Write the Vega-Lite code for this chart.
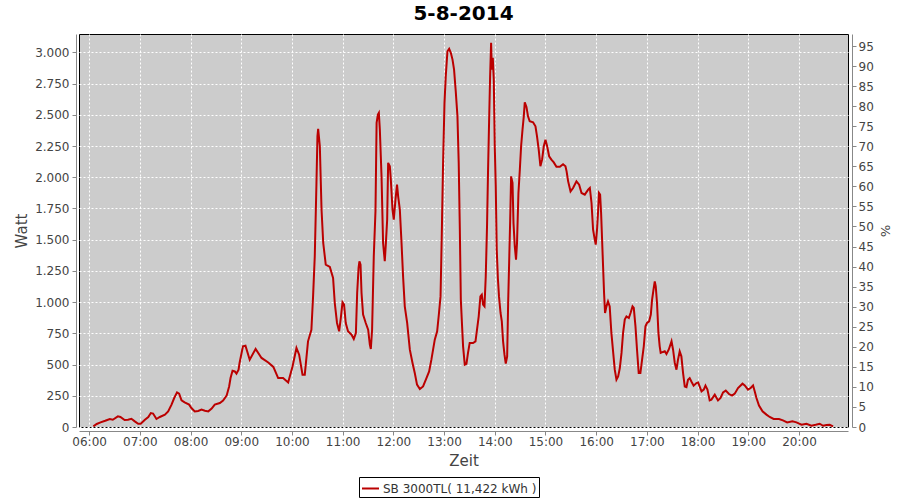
{
"$schema": "https://vega.github.io/schema/vega-lite/v6.json",
"width": 769, "height": 393,
"autosize": "none",
"padding": {"left": 79, "top": 34, "right": 52, "bottom": 73},
"background": "white",
"title": {"text": "5-8-2014", "font": "DejaVu Sans", "fontSize": 20, "fontWeight": "bold", "color": "#000000", "anchor": "middle", "offset": 10},
"config": {
  "view": {"fill": "#cccccc", "stroke": "#000000", "strokeWidth": 1},
  "axis": {"labelFont": "DejaVu Sans", "labelFontSize": 12, "labelColor": "#444444", "titleFont": "DejaVu Sans", "titleFontWeight": "normal", "titleColor": "#444444", "titleFontSize": 15, "domainColor": "#888888", "tickColor": "#888888", "gridColor": "#ffffff", "gridDash": [2, 2], "gridOpacity": 1, "gridWidth": 1}
},
"data": {"values": [
{"t":"2014-08-05T06:05:00","W":5},{"t":"2014-08-05T06:09:00","W":24},{"t":"2014-08-05T06:13:30","W":37},{"t":"2014-08-05T06:19:00","W":50},{"t":"2014-08-05T06:24:30","W":64},{"t":"2014-08-05T06:28:00","W":58},{"t":"2014-08-05T06:34:00","W":85},{"t":"2014-08-05T06:37:00","W":80},{"t":"2014-08-05T06:42:00","W":56},{"t":"2014-08-05T06:46:00","W":58},{"t":"2014-08-05T06:50:00","W":66},{"t":"2014-08-05T06:54:00","W":45},{"t":"2014-08-05T06:58:00","W":26},{"t":"2014-08-05T07:01:00","W":26},{"t":"2014-08-05T07:06:00","W":58},{"t":"2014-08-05T07:10:00","W":80},{"t":"2014-08-05T07:13:00","W":112},{"t":"2014-08-05T07:15:40","W":108},{"t":"2014-08-05T07:19:40","W":64},{"t":"2014-08-05T07:23:40","W":80},{"t":"2014-08-05T07:29:40","W":99},{"t":"2014-08-05T07:33:30","W":125},{"t":"2014-08-05T07:37:30","W":179},{"t":"2014-08-05T07:40:40","W":232},{"t":"2014-08-05T07:44:00","W":277},{"t":"2014-08-05T07:46:30","W":267},{"t":"2014-08-05T07:49:20","W":213},{"t":"2014-08-05T07:53:00","W":197},{"t":"2014-08-05T07:58:20","W":179},{"t":"2014-08-05T08:01:00","W":152},{"t":"2014-08-05T08:05:00","W":125},{"t":"2014-08-05T08:09:00","W":128},{"t":"2014-08-05T08:13:00","W":139},{"t":"2014-08-05T08:17:00","W":130},{"t":"2014-08-05T08:21:00","W":125},{"t":"2014-08-05T08:25:00","W":147},{"t":"2014-08-05T08:28:40","W":179},{"t":"2014-08-05T08:34:40","W":192},{"t":"2014-08-05T08:38:30","W":211},{"t":"2014-08-05T08:42:40","W":251},{"t":"2014-08-05T08:45:40","W":325},{"t":"2014-08-05T08:47:20","W":392},{"t":"2014-08-05T08:49:40","W":451},{"t":"2014-08-05T08:52:20","W":445},{"t":"2014-08-05T08:54:20","W":427},{"t":"2014-08-05T08:56:50","W":459},{"t":"2014-08-05T08:58:00","W":513},
{"t":"2014-08-05T09:02:00","W":646},{"t":"2014-08-05T09:05:00","W":651},{"t":"2014-08-05T09:10:00","W":539},{"t":"2014-08-05T09:17:00","W":625},{"t":"2014-08-05T09:24:00","W":553},{"t":"2014-08-05T09:32:00","W":517},{"t":"2014-08-05T09:38:00","W":481},{"t":"2014-08-05T09:43:40","W":392},{"t":"2014-08-05T09:49:30","W":392},{"t":"2014-08-05T09:55:30","W":357},{"t":"2014-08-05T10:00:40","W":485},{"t":"2014-08-05T10:05:20","W":633},{"t":"2014-08-05T10:08:30","W":579},{"t":"2014-08-05T10:12:30","W":419},{"t":"2014-08-05T10:15:10","W":419},{"t":"2014-08-05T10:19:00","W":686},{"t":"2014-08-05T10:23:00","W":779},{"t":"2014-08-05T10:25:00","W":1046},{"t":"2014-08-05T10:27:00","W":1367},{"t":"2014-08-05T10:29:00","W":1954},{"t":"2014-08-05T10:30:10","W":2328},{"t":"2014-08-05T10:31:00","W":2387},{"t":"2014-08-05T10:33:00","W":2248},{"t":"2014-08-05T10:35:00","W":1741},{"t":"2014-08-05T10:37:00","W":1474},{"t":"2014-08-05T10:40:00","W":1300},{"t":"2014-08-05T10:44:50","W":1282},{"t":"2014-08-05T10:48:40","W":1193},{"t":"2014-08-05T10:50:40","W":993},{"t":"2014-08-05T10:53:20","W":833},{"t":"2014-08-05T10:55:50","W":766},{"t":"2014-08-05T10:57:50","W":873},{"t":"2014-08-05T10:59:50","W":998},{"t":"2014-08-05T11:01:40","W":980},{"t":"2014-08-05T11:03:40","W":833},{"t":"2014-08-05T11:06:20","W":766},{"t":"2014-08-05T11:10:30","W":739},{"t":"2014-08-05T11:13:10","W":705},{"t":"2014-08-05T11:15:40","W":753},{"t":"2014-08-05T11:17:10","W":1073},{"t":"2014-08-05T11:18:50","W":1274},{"t":"2014-08-05T11:19:50","W":1327},{"t":"2014-08-05T11:21:10","W":1300},{"t":"2014-08-05T11:22:20","W":1073},{"t":"2014-08-05T11:24:10","W":900},{"t":"2014-08-05T11:27:20","W":833},{"t":"2014-08-05T11:30:10","W":779},{"t":"2014-08-05T11:32:10","W":659},{"t":"2014-08-05T11:33:20","W":625},{"t":"2014-08-05T11:34:50","W":779},{"t":"2014-08-05T11:36:50","W":1367},{"t":"2014-08-05T11:38:50","W":1727},{"t":"2014-08-05T11:40:10","W":2435},{"t":"2014-08-05T11:41:40","W":2501},{"t":"2014-08-05T11:42:50","W":2515},{"t":"2014-08-05T11:44:00","W":2381},{"t":"2014-08-05T11:46:00","W":2007},{"t":"2014-08-05T11:47:50","W":1474},{"t":"2014-08-05T11:49:50","W":1327},{"t":"2014-08-05T11:51:10","W":1474},{"t":"2014-08-05T11:52:40","W":1660},{"t":"2014-08-05T11:53:50","W":2115},{"t":"2014-08-05T11:55:50","W":2088},{"t":"2014-08-05T11:57:00","W":1981},{"t":"2014-08-05T11:59:00","W":1741},{"t":"2014-08-05T12:00:30","W":1660},{"t":"2014-08-05T12:02:30","W":1821},{"t":"2014-08-05T12:04:20","W":1941},{"t":"2014-08-05T12:05:40","W":1847},{"t":"2014-08-05T12:07:40","W":1741},{"t":"2014-08-05T12:09:40","W":1474},{"t":"2014-08-05T12:11:30","W":1206},{"t":"2014-08-05T12:13:30","W":966},{"t":"2014-08-05T12:16:20","W":833},{"t":"2014-08-05T12:19:30","W":619},{"t":"2014-08-05T12:22:40","W":513},{"t":"2014-08-05T12:25:20","W":432},{"t":"2014-08-05T12:28:00","W":339},{"t":"2014-08-05T12:31:20","W":304},{"t":"2014-08-05T12:35:10","W":325},{"t":"2014-08-05T12:39:10","W":392},{"t":"2014-08-05T12:42:20","W":445},{"t":"2014-08-05T12:45:00","W":539},{"t":"2014-08-05T12:49:00","W":699},{"t":"2014-08-05T12:51:50","W":766},{"t":"2014-08-05T12:54:00","W":913},{"t":"2014-08-05T12:55:50","W":1046},{"t":"2014-08-05T12:57:20","W":1554},{"t":"2014-08-05T12:58:50","W":2115},
{"t":"2014-08-05T13:00:30","W":2595},{"t":"2014-08-05T13:02:00","W":2808},{"t":"2014-08-05T13:04:00","W":3009},{"t":"2014-08-05T13:06:00","W":3028},{"t":"2014-08-05T13:08:00","W":2996},{"t":"2014-08-05T13:10:00","W":2942},{"t":"2014-08-05T13:11:50","W":2862},{"t":"2014-08-05T13:13:50","W":2688},{"t":"2014-08-05T13:15:50","W":2488},{"t":"2014-08-05T13:17:20","W":2115},{"t":"2014-08-05T13:18:40","W":1580},{"t":"2014-08-05T13:19:50","W":1020},{"t":"2014-08-05T13:21:20","W":806},{"t":"2014-08-05T13:22:30","W":646},{"t":"2014-08-05T13:24:30","W":499},{"t":"2014-08-05T13:26:30","W":505},{"t":"2014-08-05T13:28:20","W":593},{"t":"2014-08-05T13:30:20","W":673},{"t":"2014-08-05T13:34:20","W":673},{"t":"2014-08-05T13:37:10","W":686},{"t":"2014-08-05T13:39:00","W":779},{"t":"2014-08-05T13:41:00","W":886},{"t":"2014-08-05T13:43:00","W":1046},{"t":"2014-08-05T13:44:40","W":1060},{"t":"2014-08-05T13:46:10","W":980},{"t":"2014-08-05T13:47:50","W":966},{"t":"2014-08-05T13:49:20","W":1206},{"t":"2014-08-05T13:50:50","W":1607},{"t":"2014-08-05T13:52:00","W":2035},{"t":"2014-08-05T13:53:20","W":2461},{"t":"2014-08-05T13:54:30","W":2808},{"t":"2014-08-05T13:55:40","W":3076},{"t":"2014-08-05T13:56:30","W":2862},{"t":"2014-08-05T13:57:40","W":2956},{"t":"2014-08-05T13:58:50","W":2782},{"t":"2014-08-05T14:00:00","W":2248},{"t":"2014-08-05T14:01:10","W":1927},{"t":"2014-08-05T14:02:20","W":1420},{"t":"2014-08-05T14:03:40","W":1193},{"t":"2014-08-05T14:05:00","W":1046},{"t":"2014-08-05T14:06:50","W":913},{"t":"2014-08-05T14:08:20","W":846},{"t":"2014-08-05T14:09:50","W":686},{"t":"2014-08-05T14:11:30","W":579},{"t":"2014-08-05T14:13:00","W":507},{"t":"2014-08-05T14:14:40","W":566},{"t":"2014-08-05T14:15:50","W":993},{"t":"2014-08-05T14:17:00","W":1314},{"t":"2014-08-05T14:18:10","W":1634},{"t":"2014-08-05T14:19:20","W":2007},{"t":"2014-08-05T14:21:00","W":1954},{"t":"2014-08-05T14:22:10","W":1634},{"t":"2014-08-05T14:23:40","W":1447},{"t":"2014-08-05T14:25:10","W":1340},{"t":"2014-08-05T14:26:20","W":1474},{"t":"2014-08-05T14:28:00","W":1874},{"t":"2014-08-05T14:29:40","W":2061},{"t":"2014-08-05T14:31:10","W":2248},{"t":"2014-08-05T14:32:50","W":2381},{"t":"2014-08-05T14:34:20","W":2488},{"t":"2014-08-05T14:35:30","W":2600},{"t":"2014-08-05T14:37:30","W":2563},{"t":"2014-08-05T14:39:20","W":2488},{"t":"2014-08-05T14:41:20","W":2448},{"t":"2014-08-05T14:45:20","W":2440},{"t":"2014-08-05T14:48:10","W":2408},{"t":"2014-08-05T14:50:00","W":2328},{"t":"2014-08-05T14:52:00","W":2221},{"t":"2014-08-05T14:54:00","W":2088},{"t":"2014-08-05T14:56:00","W":2141},{"t":"2014-08-05T14:58:00","W":2248},{"t":"2014-08-05T15:00:00","W":2301},{"t":"2014-08-05T15:02:00","W":2248},{"t":"2014-08-05T15:04:20","W":2168},{"t":"2014-08-05T15:07:00","W":2141},{"t":"2014-08-05T15:09:50","W":2119},{"t":"2014-08-05T15:13:00","W":2083},{"t":"2014-08-05T15:17:00","W":2083},{"t":"2014-08-05T15:20:50","W":2104},{"t":"2014-08-05T15:23:40","W":2088},{"t":"2014-08-05T15:25:00","W":2047},{"t":"2014-08-05T15:26:50","W":1967},{"t":"2014-08-05T15:29:40","W":1887},{"t":"2014-08-05T15:32:40","W":1914},{"t":"2014-08-05T15:36:40","W":1967},{"t":"2014-08-05T15:39:50","W":1941},{"t":"2014-08-05T15:42:40","W":1874},{"t":"2014-08-05T15:46:30","W":1861},{"t":"2014-08-05T15:50:30","W":1901},{"t":"2014-08-05T15:52:30","W":1914},{"t":"2014-08-05T15:54:30","W":1794},{"t":"2014-08-05T15:56:20","W":1580},{"t":"2014-08-05T15:58:20","W":1500},{"t":"2014-08-05T15:59:30","W":1460},
{"t":"2014-08-05T16:01:00","W":1580},{"t":"2014-08-05T16:02:10","W":1714},{"t":"2014-08-05T16:03:20","W":1874},{"t":"2014-08-05T16:04:40","W":1861},{"t":"2014-08-05T16:05:50","W":1714},{"t":"2014-08-05T16:07:00","W":1500},{"t":"2014-08-05T16:08:10","W":1286},{"t":"2014-08-05T16:09:20","W":1073},{"t":"2014-08-05T16:10:30","W":913},{"t":"2014-08-05T16:12:10","W":966},{"t":"2014-08-05T16:14:00","W":1006},{"t":"2014-08-05T16:16:00","W":966},{"t":"2014-08-05T16:18:00","W":753},{"t":"2014-08-05T16:20:00","W":606},{"t":"2014-08-05T16:22:00","W":459},{"t":"2014-08-05T16:24:00","W":379},{"t":"2014-08-05T16:26:00","W":405},{"t":"2014-08-05T16:28:00","W":472},{"t":"2014-08-05T16:30:00","W":593},{"t":"2014-08-05T16:31:50","W":753},{"t":"2014-08-05T16:33:50","W":860},{"t":"2014-08-05T16:35:50","W":886},{"t":"2014-08-05T16:38:40","W":873},{"t":"2014-08-05T16:40:40","W":913},{"t":"2014-08-05T16:43:00","W":966},{"t":"2014-08-05T16:44:30","W":953},{"t":"2014-08-05T16:46:30","W":806},{"t":"2014-08-05T16:48:20","W":619},{"t":"2014-08-05T16:50:20","W":432},{"t":"2014-08-05T16:52:20","W":432},{"t":"2014-08-05T16:54:20","W":539},{"t":"2014-08-05T16:56:20","W":646},{"t":"2014-08-05T16:58:20","W":806},{"t":"2014-08-05T17:00:10","W":833},{"t":"2014-08-05T17:02:40","W":846},{"t":"2014-08-05T17:04:40","W":900},{"t":"2014-08-05T17:06:10","W":1020},{"t":"2014-08-05T17:07:50","W":1100},{"t":"2014-08-05T17:09:20","W":1166},{"t":"2014-08-05T17:10:30","W":1126},{"t":"2014-08-05T17:12:00","W":993},{"t":"2014-08-05T17:13:40","W":753},{"t":"2014-08-05T17:15:10","W":646},{"t":"2014-08-05T17:16:20","W":593},{"t":"2014-08-05T17:19:10","W":601},{"t":"2014-08-05T17:21:10","W":606},{"t":"2014-08-05T17:23:10","W":585},{"t":"2014-08-05T17:25:50","W":619},{"t":"2014-08-05T17:29:10","W":686},{"t":"2014-08-05T17:31:00","W":619},{"t":"2014-08-05T17:33:00","W":513},{"t":"2014-08-05T17:35:00","W":459},{"t":"2014-08-05T17:36:50","W":539},{"t":"2014-08-05T17:38:50","W":606},{"t":"2014-08-05T17:40:50","W":566},{"t":"2014-08-05T17:42:50","W":432},{"t":"2014-08-05T17:44:50","W":325},{"t":"2014-08-05T17:46:50","W":320},{"t":"2014-08-05T17:48:40","W":379},{"t":"2014-08-05T17:50:40","W":392},{"t":"2014-08-05T17:52:40","W":365},{"t":"2014-08-05T17:55:20","W":331},{"t":"2014-08-05T17:58:40","W":352},{"t":"2014-08-05T18:00:40","W":357},{"t":"2014-08-05T18:04:40","W":285},{"t":"2014-08-05T18:07:20","W":299},{"t":"2014-08-05T18:09:20","W":331},{"t":"2014-08-05T18:11:40","W":299},{"t":"2014-08-05T18:14:20","W":213},{"t":"2014-08-05T18:16:20","W":219},{"t":"2014-08-05T18:20:20","W":259},{"t":"2014-08-05T18:24:10","W":213},{"t":"2014-08-05T18:27:10","W":232},{"t":"2014-08-05T18:30:10","W":277},{"t":"2014-08-05T18:33:20","W":291},{"t":"2014-08-05T18:37:10","W":264},{"t":"2014-08-05T18:40:50","W":251},{"t":"2014-08-05T18:44:00","W":267},{"t":"2014-08-05T18:47:50","W":312},{"t":"2014-08-05T18:53:10","W":347},{"t":"2014-08-05T18:55:50","W":333},{"t":"2014-08-05T18:59:40","W":299},{"t":"2014-08-05T19:02:50","W":312},{"t":"2014-08-05T19:05:40","W":333},{"t":"2014-08-05T19:07:40","W":285},{"t":"2014-08-05T19:09:40","W":232},{"t":"2014-08-05T19:12:40","W":171},{"t":"2014-08-05T19:16:50","W":125},{"t":"2014-08-05T19:21:30","W":99},{"t":"2014-08-05T19:25:20","W":80},{"t":"2014-08-05T19:30:00","W":64},{"t":"2014-08-05T19:36:20","W":64},{"t":"2014-08-05T19:41:00","W":53},{"t":"2014-08-05T19:46:00","W":37},{"t":"2014-08-05T19:52:10","W":45},{"t":"2014-08-05T19:57:00","W":37},{"t":"2014-08-05T20:03:00","W":18},{"t":"2014-08-05T20:08:50","W":26},{"t":"2014-08-05T20:14:40","W":10},{"t":"2014-08-05T20:19:50","W":18},{"t":"2014-08-05T20:24:30","W":26},{"t":"2014-08-05T20:28:30","W":10},{"t":"2014-08-05T20:32:30","W":16},{"t":"2014-08-05T20:36:20","W":18},{"t":"2014-08-05T20:40:20","W":5}
]},
"layer": [
  {
    "mark": {"type": "line", "strokeWidth": 2, "clip": true},
    "encoding": {
      "x": {"field": "t", "type": "temporal", "timeUnit": "hoursminutesseconds",
        "scale": {"domain": [{"hours": 5, "minutes": 48}, {"hours": 20, "minutes": 58}], "nice": false},
        "axis": {"title": "Zeit", "format": "%H:%M", "values": [{"hours": 6}, {"hours": 7}, {"hours": 8}, {"hours": 9}, {"hours": 10}, {"hours": 11}, {"hours": 12}, {"hours": 13}, {"hours": 14}, {"hours": 15}, {"hours": 16}, {"hours": 17}, {"hours": 18}, {"hours": 19}, {"hours": 20}], "offset": 4, "tickSize": 4, "labelPadding": 1, "titlePadding": 6, "grid": true, "labelFlush": false, "labelOverlap": false}},
      "y": {"field": "W", "type": "quantitative",
        "scale": {"domain": [0, 3147], "nice": false, "zero": true},
        "axis": {"title": "Watt", "values": [0, 250, 500, 750, 1000, 1250, 1500, 1750, 2000, 2250, 2500, 2750, 3000], "labelExpr": "replace(format(datum.value, ',d'), ',', '.')", "offset": 3, "tickSize": 4, "labelPadding": 3, "titlePadding": 5, "grid": true}},
      "color": {"datum": "SB 3000TL( 11,422 kWh )", "type": "nominal", "scale": {"range": ["#bb0000"]},
        "legend": {"title": null, "orient": "none", "legendX": 280, "legendY": 443, "strokeColor": "#000000", "padding": 2, "symbolType": "stroke", "symbolSize": 289, "symbolStrokeWidth": 2, "labelFont": "DejaVu Sans", "labelFontSize": 12, "labelColor": "#333333", "labelOffset": 3}}
    }
  },
  {
    "mark": {"type": "line", "opacity": 0, "clip": true},
    "encoding": {
      "x": {"field": "t", "type": "temporal", "timeUnit": "hoursminutesseconds"},
      "y": {"field": "W", "type": "quantitative",
        "scale": {"domain": [0, 98], "nice": false},
        "axis": {"title": "%", "orient": "right", "values": [0, 5, 10, 15, 20, 25, 30, 35, 40, 45, 50, 55, 60, 65, 70, 75, 80, 85, 90, 95], "offset": 4, "tickSize": 4, "labelPadding": 2, "titlePadding": 4, "grid": false, "titleFontSize": 13}}
    }
  }
],
"resolve": {"scale": {"y": "independent"}}
}
